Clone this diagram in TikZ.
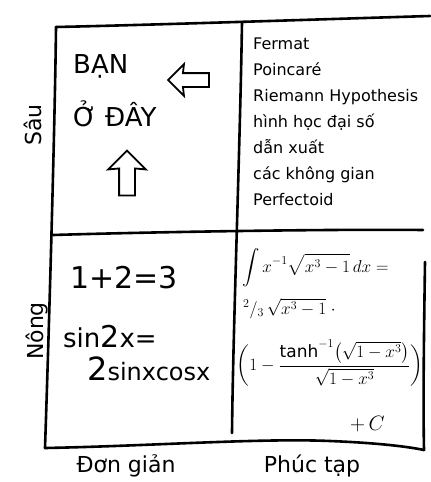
\documentclass[tikz,border=0pt]{standalone}
\usepackage{amsmath}
\usepackage{fontspec}
\setmainfont{DejaVu Sans}
\usetikzlibrary{shapes.arrows}

\begin{document}
\begin{tikzpicture}[x=1pt, y=-1pt,
    border/.style={line width=2.6pt, line cap=round, line join=round},
    youtext/.style={font=\fontsize{26}{30}\selectfont, inner sep=0pt},
    axislabel/.style={font=\fontsize{22}{26}\selectfont, inner sep=0pt},
    listtext/.style={font=\fontsize{16}{26}\selectfont, align=left, inner sep=0pt},
    easytext/.style={font=\fontsize{26}{30}\selectfont, inner sep=0pt},
    hardtext/.style={font=\fontsize{17}{21}\selectfont, inner sep=0pt},
    hollowarrow/.style={draw, line width=1.8pt, single arrow, single arrow head indent=1pt}
  ]
  \useasboundingbox (0,0) rectangle (431,482);

  % corners of the grid
  \coordinate (tl) at (56,27);
  \coordinate (tm) at (242,22);
  \coordinate (tr) at (430,16);
  \coordinate (ml) at (53,235);
  \coordinate (mm) at (238,232);
  \coordinate (mr) at (423,230);
  \coordinate (rt) at (425,262);
  \coordinate (bl) at (45,448);
  \coordinate (bm) at (232,433);
  \coordinate (br) at (424,450);

  \draw[border] (tl) .. controls (150,25) and (330,19) .. (tr);
  \draw[border] (tl) .. controls (55,120) and (49,330) .. (bl);
  \draw[border] (tm) .. controls (240,150) and (233,330) .. (bm);
  \draw[border] (ml) .. controls (150,232) and (330,229) .. (mr);
  \draw[border] (rt) .. controls (424,330) and (423,400) .. (br);
  \draw[border] (bl) .. controls (150,446) and (260,438) .. (330,441)
    .. controls (380,443) and (410,447) .. (br);

  % deep and simple
  \node[youtext, anchor=base west] (you) at (73,73) {BẠN};
  \node[youtext, anchor=base west] (here) at (73,126) {Ở ĐÂY};
  \node[hollowarrow, inner sep=6pt, single arrow head extend=9pt,
        minimum height=41pt, shape border rotate=180] (leftarrow) at (192,80) {};
  \node[hollowarrow, inner sep=7pt, single arrow head extend=11pt,
        minimum height=45pt, shape border rotate=90] (uparrow) at (127,177) {};

  % deep and complex
  \node[listtext, anchor=north west] (deeplist) at (253,38)
    {Fermat\\Poincaré\\Riemann Hypothesis\\hình học đại số\\dẫn xuất\\các không gian\\Perfectoid};

  % shallow and simple
  \node[easytext, anchor=base west] (sum) at (70,288) {\fontsize{30}{34}\selectfont 1+2=3};
  \node[easytext, anchor=base west] (sinleft) at (63,347) {sin{\fontsize{30}{34}\selectfont 2}x=};
  \node[easytext, anchor=base west] (sinright) at (87,380)
    {{\fontsize{32}{36}\selectfont 2}{\fontsize{24}{28}\selectfont sinxcosx}};

  % shallow and complex
  \node[hardtext, anchor=base west] (integral) at (242,272) {$\displaystyle\int x^{-1}\sqrt{x^3-1}\,dx =$};
  \node[hardtext, anchor=base west] (factor) at (243,314) {${}^2/{}_3\,\sqrt{x^3-1}\;\cdot$};
  \node[hardtext] (bracket) at (330,363)
    {$\displaystyle\biggl(1-\frac{\tanh^{-1}\bigl(\sqrt{1-x^3}\bigr)}{\sqrt{1-x^3}}\biggr)$};
  \node[hardtext, font=\fontsize{22}{26}\selectfont, anchor=base west] (constant) at (350,430) {$+\,C$};

  % axes
  \node[axislabel, rotate=90] (deeplabel) at (33,125) {Sâu};
  \node[axislabel, rotate=90] (shallowlabel) at (37,331) {Nông};
  \node[axislabel] (simplelabel) at (126,466) {Đơn giản};
  \node[axislabel] (complexlabel) at (312,466) {Phúc tạp};
\end{tikzpicture}
\end{document}
